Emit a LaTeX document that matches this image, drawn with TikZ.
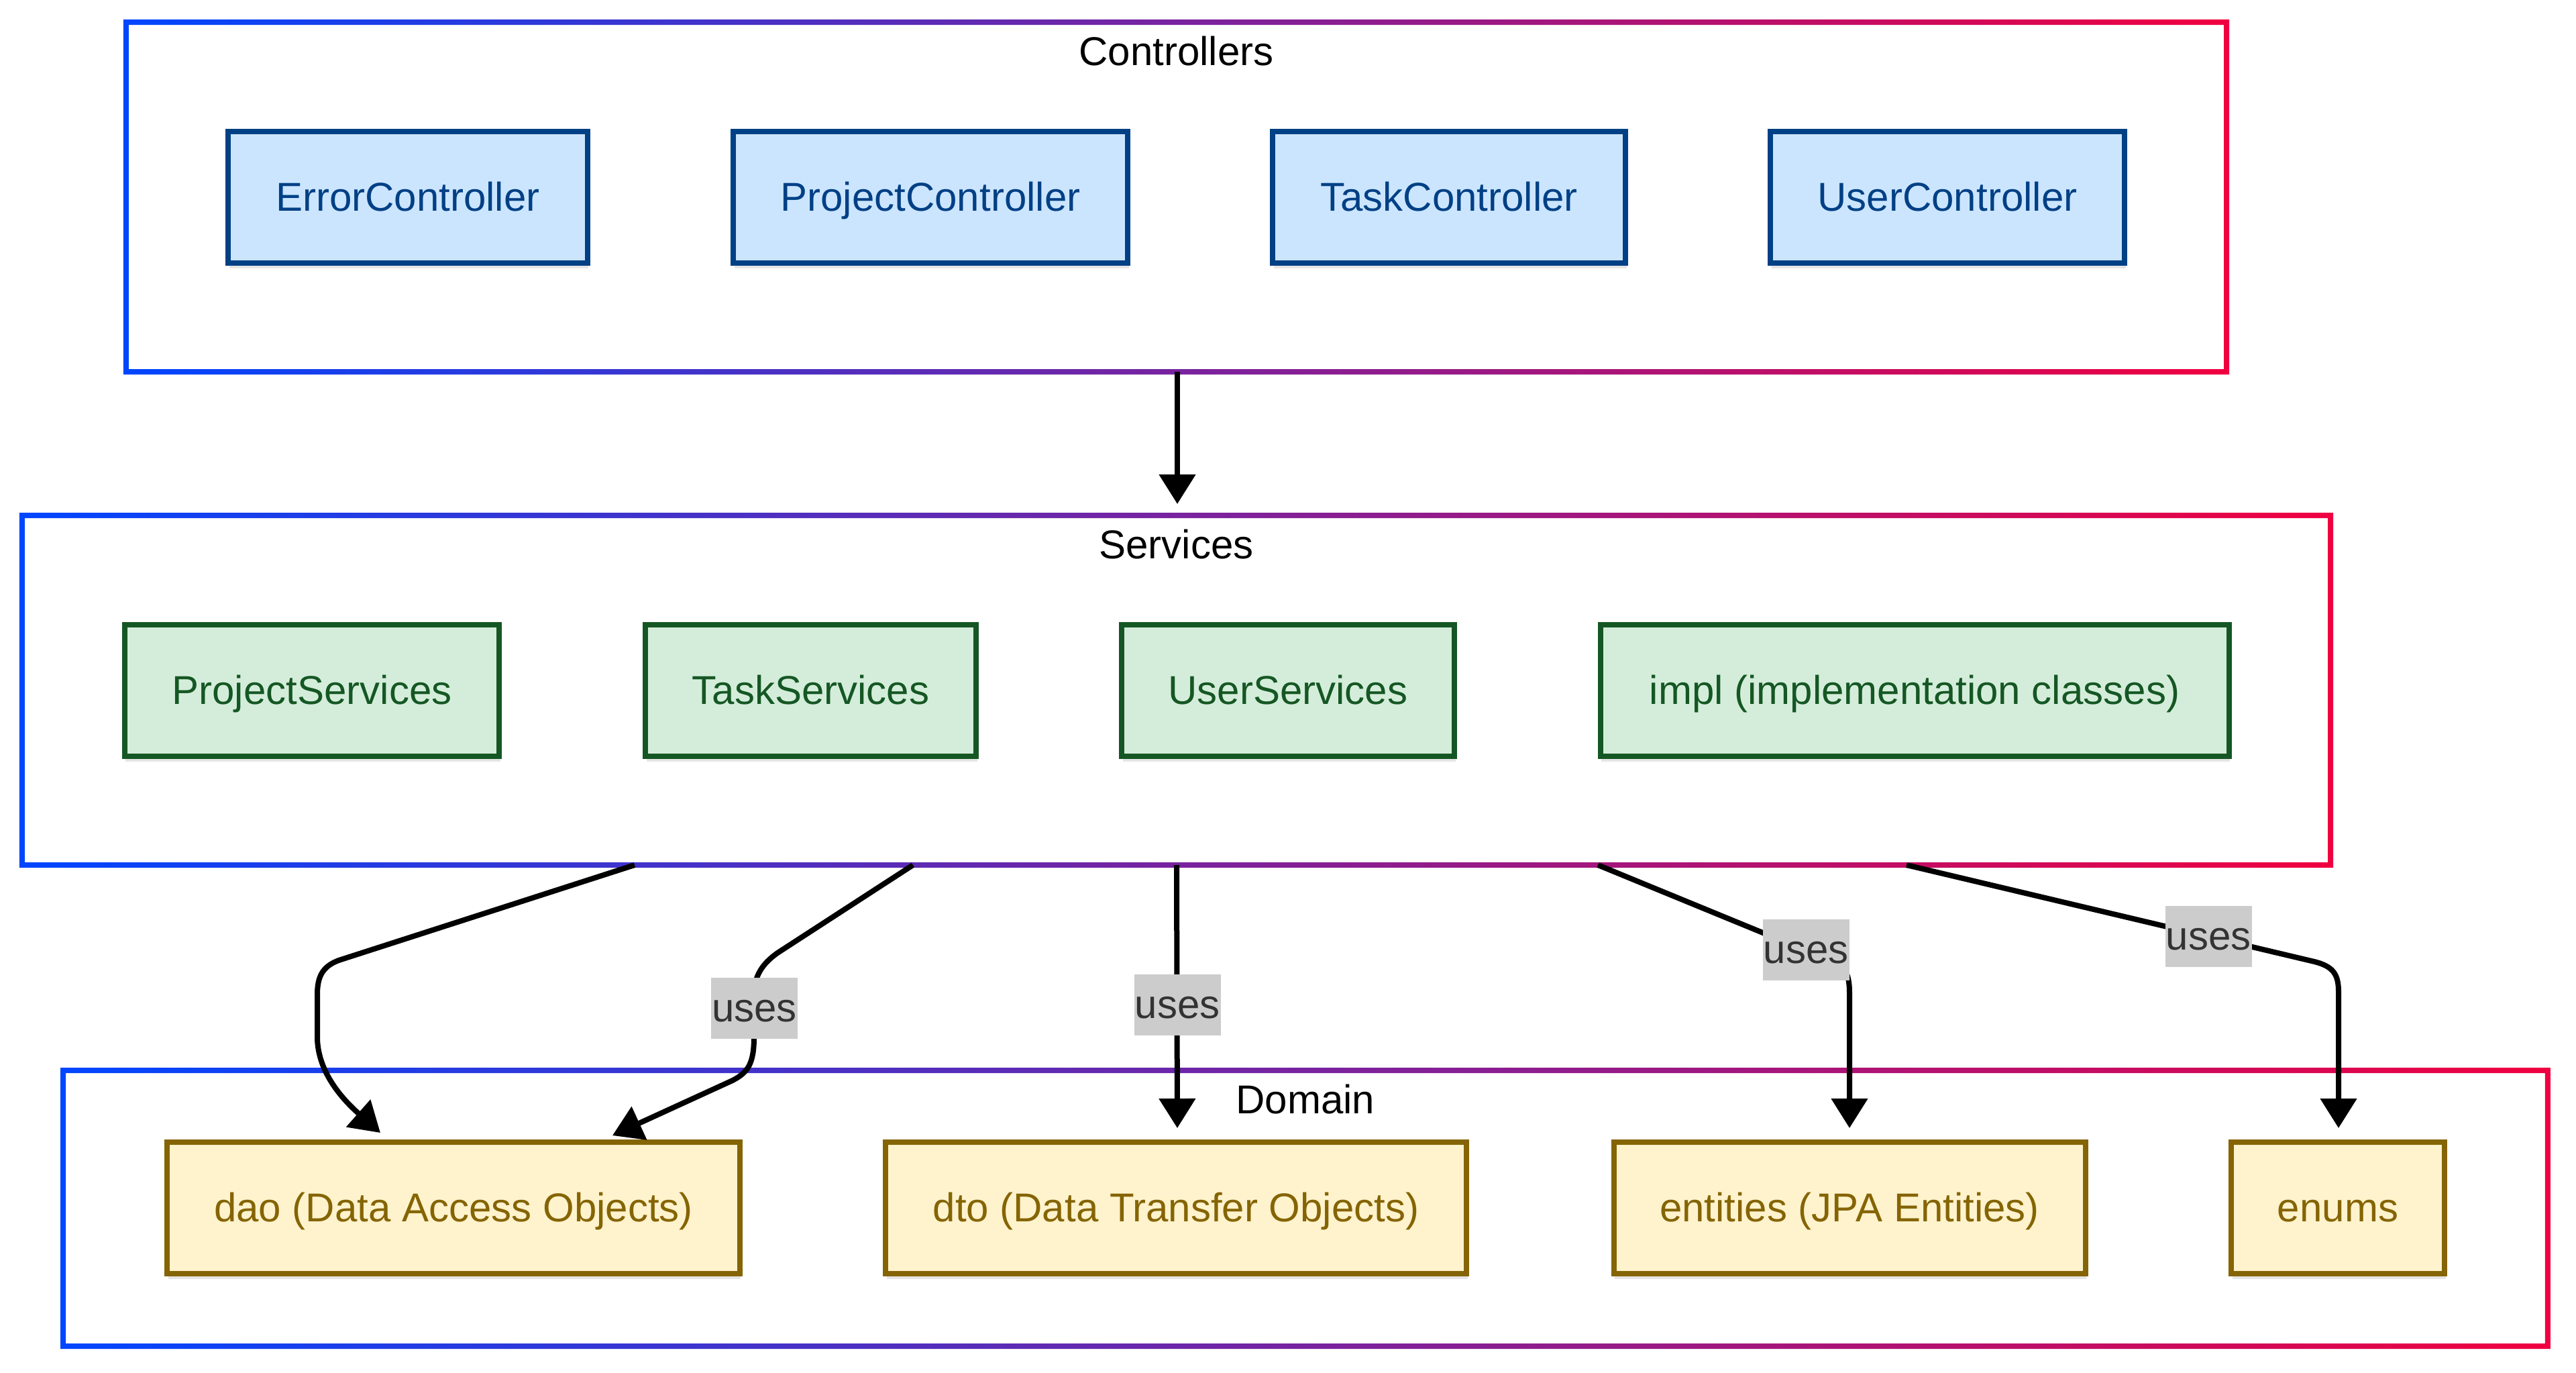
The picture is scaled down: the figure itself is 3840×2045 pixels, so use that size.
\documentclass[tikz,border=0pt]{standalone}
\usepackage{fontspec}
\setmainfont{Liberation Sans}
\usetikzlibrary{arrows.meta,calc,shadows}
\definecolor{gbl}{RGB}{0,70,255}
\definecolor{grd}{RGB}{240,0,64}
\definecolor{cfill}{HTML}{CCE5FF}
\definecolor{cdraw}{HTML}{004085}
\definecolor{sfill}{HTML}{D4EDDA}
\definecolor{sdraw}{HTML}{155724}
\definecolor{dfill}{HTML}{FFF3CD}
\definecolor{ddraw}{HTML}{856404}
\definecolor{lblfill}{HTML}{CCCCCC}
\definecolor{lbltext}{HTML}{333333}
\newcommand\gradframe[1]{%
  \shade[left color=gbl, right color=grd, even odd rule]
    ([xshift=-0.8pt,yshift=0.8pt]#1.north west) rectangle ([xshift=0.8pt,yshift=-0.8pt]#1.south east)
    ([xshift=0.8pt,yshift=-0.8pt]#1.north west) rectangle ([xshift=-0.8pt,yshift=0.8pt]#1.south east);}
\begin{document}
\begin{tikzpicture}[x=0.2pt,y=-0.2pt,
  txt/.style={font=\fontsize{12}{14}\selectfont, text height=10.86pt, text depth=2.54pt},
  box/.style={rectangle, txt, line width=1.6pt, minimum height=39.2pt, inner sep=0pt,
    drop shadow={shadow xshift=0.3pt, shadow yshift=-1.6pt, opacity=0.10, fill=black}},
  ctrlbox/.style={box, fill=cfill, draw=cdraw, text=cdraw},
  svcbox/.style={box, fill=sfill, draw=sdraw, text=sdraw},
  dombox/.style={box, fill=dfill, draw=ddraw, text=ddraw},
  cluster/.style={rectangle, inner sep=0pt, draw=none},
  title/.style={txt, text=black, inner sep=0pt},
  lbl/.style={txt, fill=lblfill, text=lbltext, inner sep=0pt, minimum width=25.8pt, minimum height=18.2pt},
  edge/.style={draw=black, line width=1.6pt, -{Triangle[length=8.8pt,width=10.6pt]}},
]
\useasboundingbox (0,0) rectangle (3840,2045);
\fill[white] (0,0) rectangle (3840,2045);

% clusters
\node[cluster, minimum width=625.8pt, minimum height=103.8pt] (ctrl) at (1753.5,293.5) {};
\node[cluster, minimum width=687.8pt, minimum height=103.8pt] (svc) at (1753.5,1028.5) {};
\node[cluster, minimum width=740.3pt, minimum height=81.8pt] (dom) at (1946,1800.5) {};
\gradframe{ctrl}
\gradframe{svc}
\gradframe{dom}
\node[title] (tctrl) at ($(ctrl.north)+(0,44)$) {Controllers};
\node[title] (tsvc) at ($(svc.north)+(0,44)$) {Services};
\node[title] (tdom) at ($(dom.north)+(0,44)$) {Domain};

% controllers
\node[ctrlbox, minimum width=107pt] (ec) at (608,293.5) {ErrorController};
\node[ctrlbox, minimum width=117.6pt] (pc) at (1387,293.5) {ProjectController};
\node[ctrlbox, minimum width=105.2pt] (tc) at (2160,293.5) {TaskController};
\node[ctrlbox, minimum width=105.6pt] (uc) at (2903,293.5) {UserController};

% services
\node[svcbox, minimum width=111.6pt] (ps) at (465,1028.5) {ProjectServices};
\node[svcbox, minimum width=98.6pt] (ts) at (1208.5,1028.5) {TaskServices};
\node[svcbox, minimum width=99.2pt] (us) at (1920,1028.5) {UserServices};
\node[svcbox, minimum width=187.4pt] (im) at (2854,1028.5) {impl (implementation classes)};

% domain
\node[dombox, minimum width=170.6pt] (dao) at (676,1800) {dao (Data Access Objects)};
\node[dombox, minimum width=173.2pt] (dto) at (1753,1800) {dto (Data Transfer Objects)};
\node[dombox, minimum width=140.6pt] (ent) at (2757,1800) {entities (JPA Entities)};
\node[dombox, minimum width=63.6pt] (enu) at (3485,1800) {enums};

% connectors
\draw[edge] ($(ctrl.south)+(1.5,0)$) -- ($(svc.north)+(1.5,-17)$);

\draw[edge] ($(svc.south west)+(913,0)$) -- (505,1431)
  .. controls (481,1440) and (473,1455) .. (473,1482) -- (473,1545)
  .. controls (473,1600) and (515,1642) .. ($(dao.north)+(-109,-10)$);

\draw[edge] ($(svc.south west)+(1328,0)$) -- (1159,1420)
  .. controls (1135,1437) and (1125,1455) .. (1124,1480) -- (1124,1545)
  .. controls (1124,1585) and (1115,1598) .. (1092,1610) -- ($(dao.north)+(237,-6)$);

\draw[edge] ($(svc.south west)+(1721,0)$) -- ($(dto.north)+(2,-17)$);

\draw[edge] ($(svc.south west)+(2349,0)$) -- (2735,1434)
  .. controls (2752,1441) and (2757,1455) .. (2757,1480) -- ($(ent.north)+(0,-17)$);

\draw[edge] ($(svc.south west)+(2809,0)$) -- (3450,1433)
  .. controls (3478,1440) and (3486,1452) .. (3486,1478) -- ($(enu.north)+(1,-17)$);

% edge labels
\node[lbl] (l2) at (1124.5,1502) {uses};
\node[lbl] (l3) at (1755,1497) {uses};
\node[lbl] (l4) at (2692,1415) {uses};
\node[lbl] (l5) at (3292,1395) {uses};
\end{tikzpicture}
\end{document}
